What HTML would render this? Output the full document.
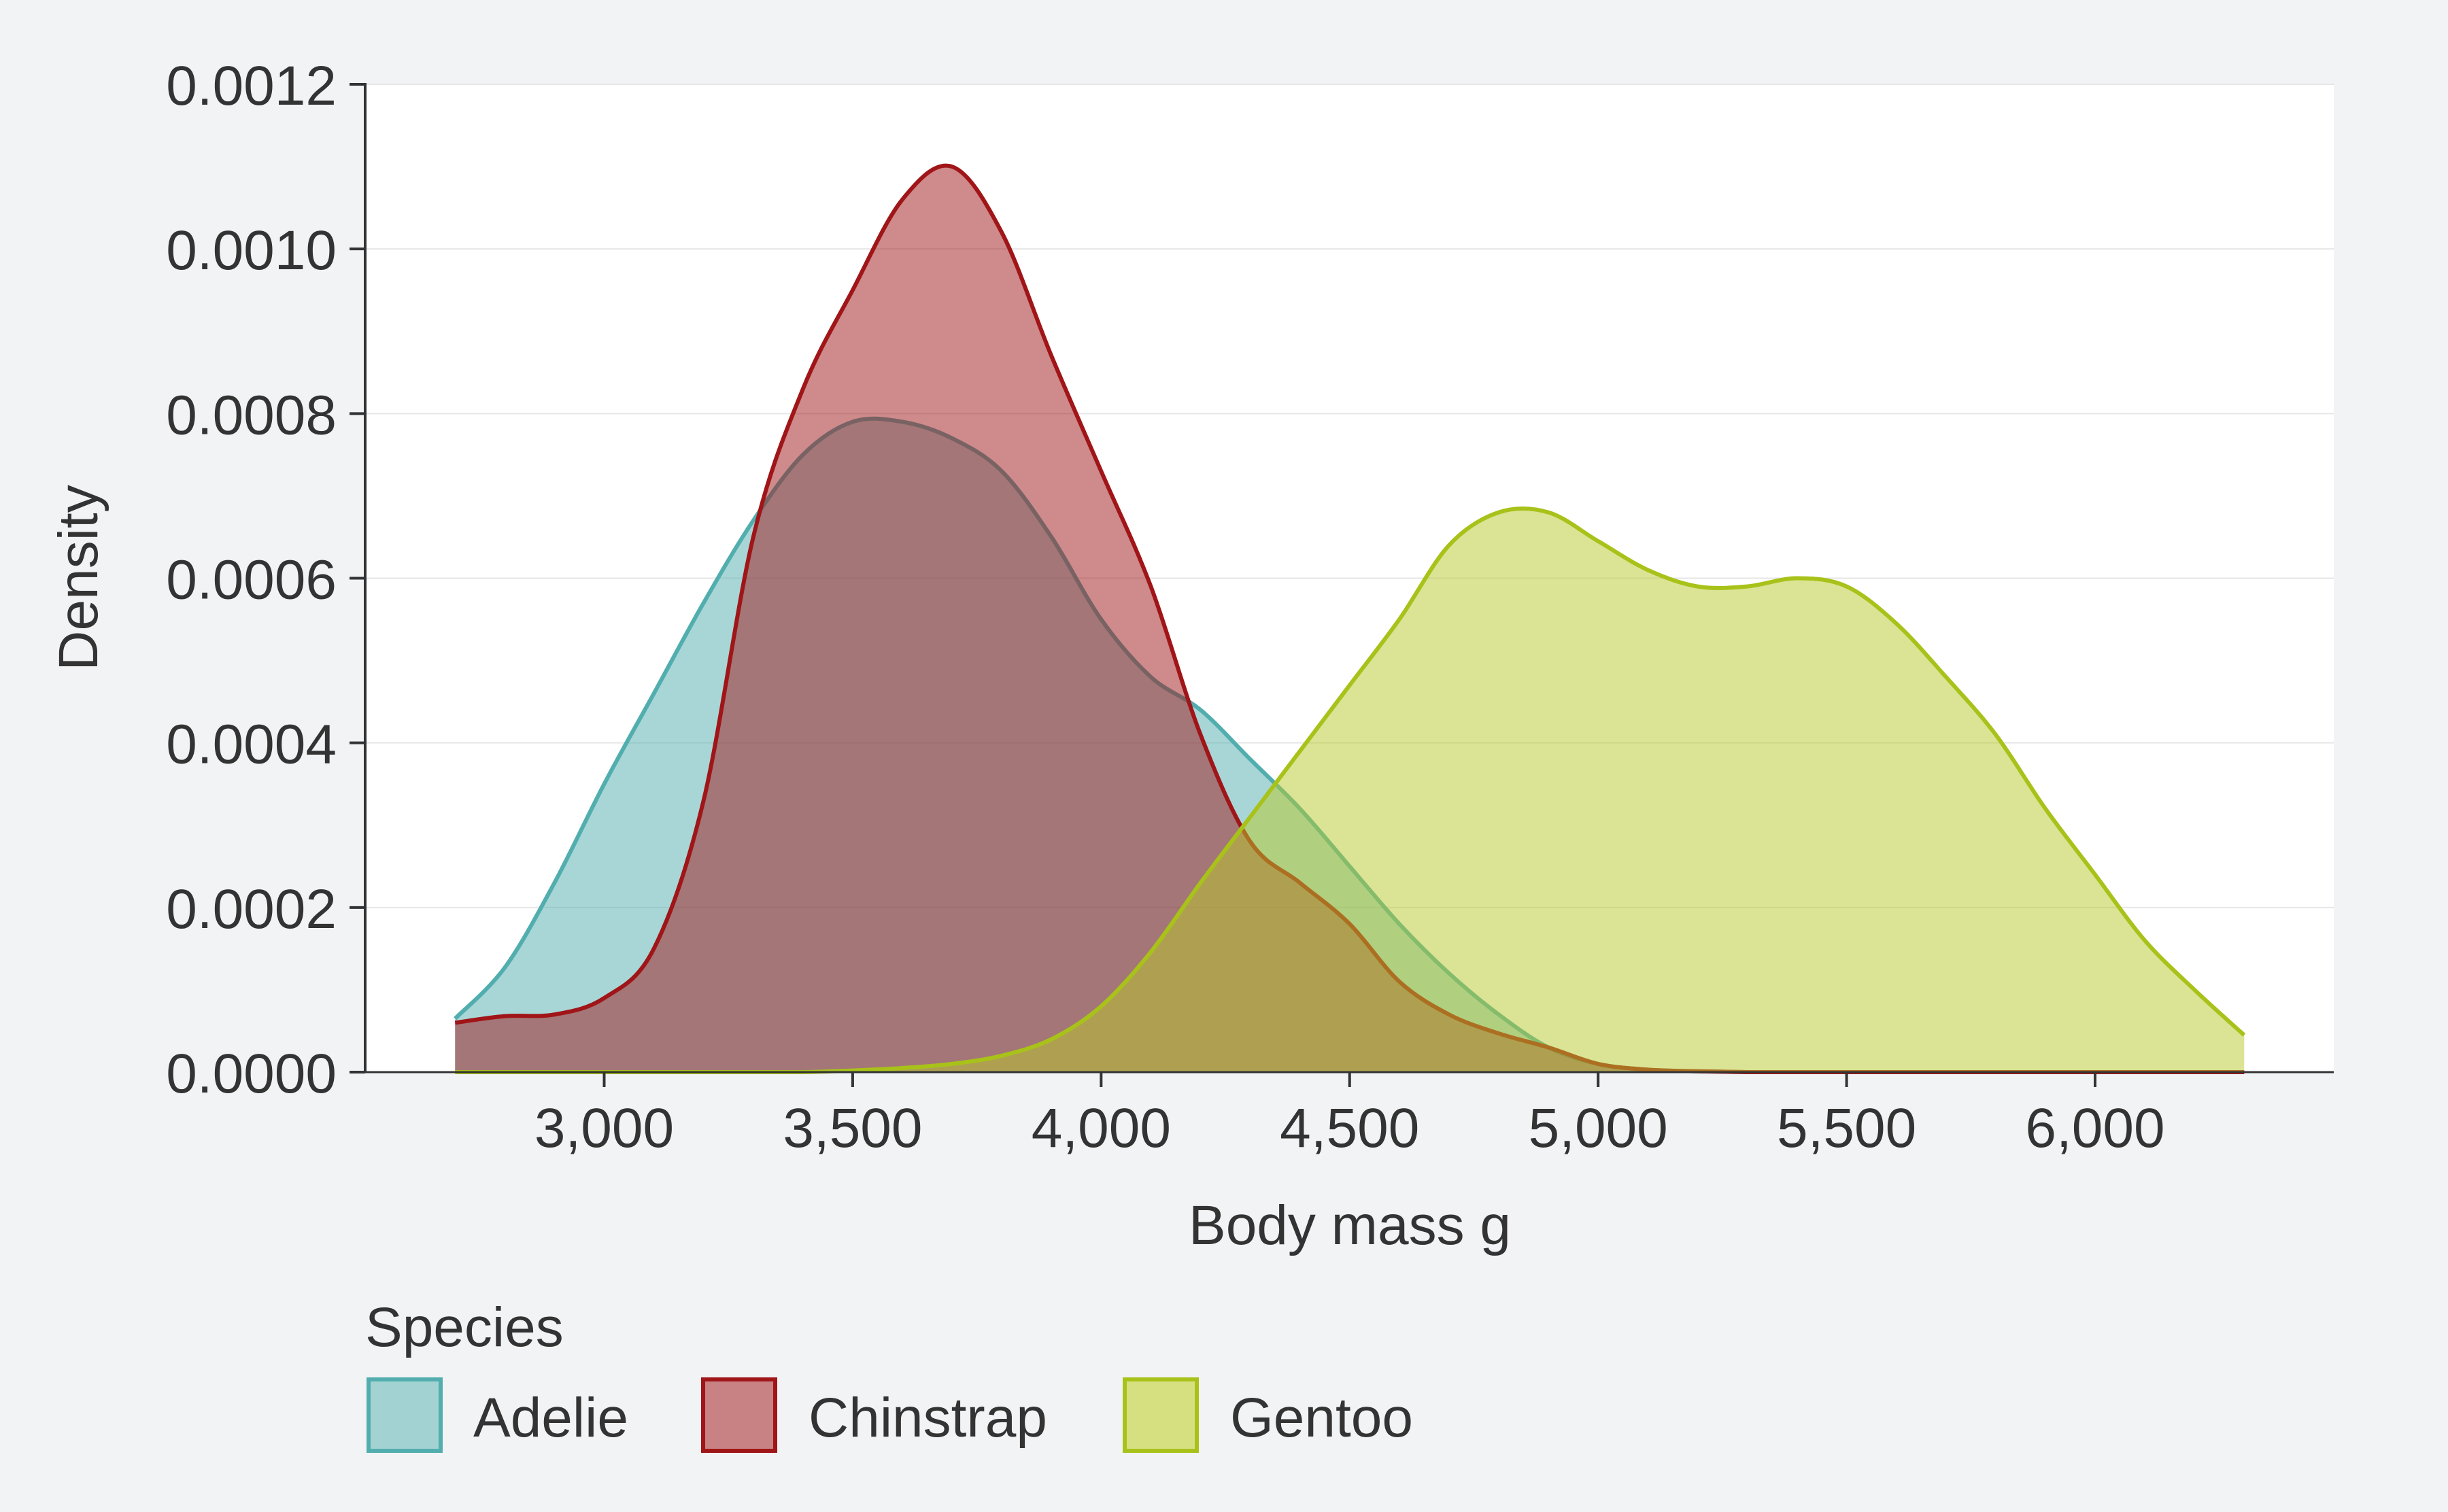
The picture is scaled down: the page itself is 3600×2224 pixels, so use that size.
<!DOCTYPE html>
<html><head><meta charset="utf-8"><style>
html,body{margin:0;padding:0;background:#f2f3f5;}
svg{display:block;font-family:"Liberation Sans",Arial,sans-serif;}
</style></head><body>
<svg id="chart" width="3600" height="2224" viewBox="0 0 3600 2224" xmlns="http://www.w3.org/2000/svg">
<rect x="0" y="0" width="3600" height="2224" fill="#f2f3f5"/>
<rect x="537" y="124" width="2895" height="1453" fill="#ffffff"/>
<g id="grid"></g>
<g id="series"></g>
<g id="axes"></g>
<text x="1985" y="1830" font-size="82" fill="#333" text-anchor="middle">Body mass g</text>
<text transform="translate(143,850) rotate(-90)" font-size="82" fill="#333" text-anchor="middle">Density</text>
<text x="537" y="1980" font-size="82" fill="#333">Species</text>
<g>
<rect x="542" y="2029" width="106" height="105" fill="#a3d2d2" stroke="#52aeae" stroke-width="6"/>
<text x="696" y="2113" font-size="82" fill="#333">Adelie</text>
</g>
<g>
<rect x="1034" y="2029" width="106" height="105" fill="#c88283" stroke="#a01518" stroke-width="6"/>
<text x="1189" y="2113" font-size="82" fill="#333">Chinstrap</text>
</g>
<g>
<rect x="1654" y="2029" width="106" height="105" fill="#d7e081" stroke="#a8c21a" stroke-width="6"/>
<text x="1809" y="2113" font-size="82" fill="#333">Gentoo</text>
</g>
</svg>
<script>
const masses = [2700,2800,2900,3000,3100,3200,3300,3400,3500,3600,3700,3800,3900,4000,4100,4200,4300,4400,4500,4600,4700,4800,4900,5000,5100,5200,5300,5400,5500,5600,5700,5800,5900,6000,6100,6200,6300];
const adelie = [0.000065,0.000127,0.00023,0.00035,0.00046,0.00057,0.00067,0.00075,0.00079,0.00079,0.00077,0.00073,0.00065,0.00055,0.00048,0.00044,0.00038,0.00032,0.00025,0.00018,0.00012,0.00007,0.00003,0.00001,0.000003,0.000001,0,0,0,0,0,0,0,0,0,0,0];
const chinstrap = [0.00006,0.000068,0.00007,0.00009,0.00015,0.00033,0.00065,0.00083,0.00095,0.00106,0.0011,0.00102,0.00087,0.00073,0.00059,0.00041,0.00028,0.00023,0.00018,0.00011,0.00007,0.000047,0.00003,0.00001,0.000003,0.000001,0,0,0,0,0,0,0,0,0,0,0];
const gentoo = [0,0,0,0,0,0,0,0,0.000002,0.000005,0.00001,0.00002,0.00004,0.00008,0.000146,0.00023,0.00031,0.00039,0.00047,0.00055,0.00064,0.00068,0.00068,0.000645,0.00061,0.00059,0.00059,0.0006,0.00059,0.000545,0.00048,0.00041,0.00032,0.00024,0.00016,0.0001,0.000045];
const yTicks = [0,0.0002,0.0004,0.0006,0.0008,0.0010,0.0012];
const yTickLabels = ["0.0000","0.0002","0.0004","0.0006","0.0008","0.0010","0.0012"];
const xTicks = [3000,3500,4000,4500,5000,5500,6000];
const xTickLabels = ["3,000","3,500","4,000","4,500","5,000","5,500","6,000"];

const NS="http://www.w3.org/2000/svg";
const L=537,R=3432,T=124,B=1577;
function xs(v){return 888.5+(v-3000)*(3081-888.5)/3000;}
function ys(v){return B-(v/0.0012)*(B-T);}
function mk(tag,attrs,parent){const e=document.createElementNS(NS,tag);for(const k in attrs)e.setAttribute(k,attrs[k]);parent.appendChild(e);return e;}
const grid=document.getElementById('grid'),axes=document.getElementById('axes'),series=document.getElementById('series');
yTicks.forEach((t,i)=>{
  const y=ys(t);
  if(i>0){const g=mk('line',{x1:L,x2:R,y1:y,y2:y,stroke:'#e6e6e6','stroke-width':2},grid);
  
  }
  const tk=mk('line',{x1:514,x2:L,y1:y,y2:y,stroke:'#333','stroke-width':4},axes);
  
  
  const tx=mk('text',{x:495,y:y+30,'font-size':82,fill:'#333','text-anchor':'end'},axes);
  tx.textContent=yTickLabels[i];
  
  
});
xTicks.forEach((t,i)=>{
  const x=xs(t);
  const tk=mk('line',{x1:x,x2:x,y1:B,y2:B+22,stroke:'#333','stroke-width':4},axes);
  
  
  const tx=mk('text',{x:x,y:B+110,'font-size':82,fill:'#333','text-anchor':'middle'},axes);
  tx.textContent=xTickLabels[i];
  
  
});
const ya=mk('line',{x1:L,x2:L,y1:T-2,y2:B,stroke:'#333','stroke-width':4},axes);


const xa=mk('line',{x1:L,x2:R,y1:B,y2:B,stroke:'#333','stroke-width':3},axes);



function curve(vals){
  const p=masses.map((m,i)=>[xs(m),ys(vals[i])]);
  let d='M'+p[0][0]+','+p[0][1];
  for(let i=0;i<p.length-1;i++){
    const p0=p[Math.max(i-1,0)],p1=p[i],p2=p[i+1],p3=p[Math.min(i+2,p.length-1)];
    let c1y=p1[1]+(p2[1]-p0[1])/6, c2y=p2[1]-(p3[1]-p1[1])/6;
    c1y=Math.min(c1y,B);c2y=Math.min(c2y,B);
    d+=' C'+(p1[0]+(p2[0]-p0[0])/6)+','+c1y+' '+(p2[0]-(p3[0]-p1[0])/6)+','+c2y+' '+p2[0]+','+p2[1];
  }
  return d;
}
function draw(vals,fill,stroke,name){
  const c=curve(vals);
  const area=mk('path',{d:c+' L'+xs(masses[masses.length-1])+','+B+' L'+xs(masses[0])+','+B+' Z',fill:fill,'fill-opacity':0.5},series);
  
  
  const ln=mk('path',{d:c,fill:'none',stroke:stroke,'stroke-width':6},series);
  
  
}
draw(adelie,'#52aeae','#52aeae','adelie');
draw(chinstrap,'#a01518','#a01518','chinstrap');
draw(gentoo,'#b7c92a','#a8c21a','gentoo');
</script>
</body></html>
